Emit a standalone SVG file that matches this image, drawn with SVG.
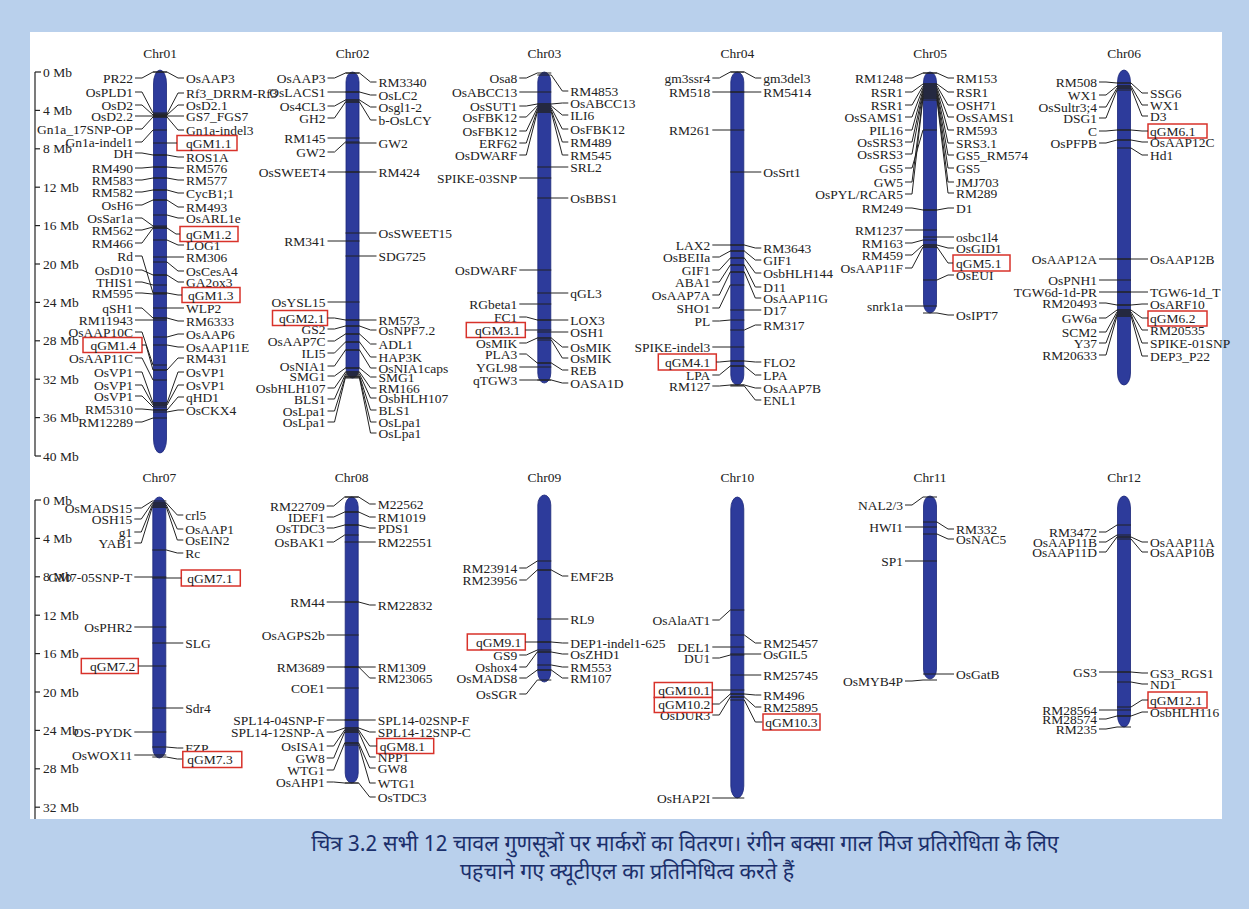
<svg xmlns="http://www.w3.org/2000/svg" width="1249" height="909" viewBox="0 0 1249 909">
<style>
text{font-family:"Liberation Serif","Times New Roman",serif;fill:#222}
.lab text{font-size:13.5px;dominant-baseline:central}
.L{text-anchor:end}
.t{font-size:15px;text-anchor:middle}
.ax text{font-size:13.5px;dominant-baseline:central}
.ax line{stroke:#222;stroke-width:1.2}
.cn polyline{fill:none;stroke:#222;stroke-width:1}
.bar{fill:#2d3b9b;stroke:#1b2678;stroke-width:.8}
.q{fill:#fff;stroke:#d8322a;stroke-width:1.5}
.cap{font-family:"Noto Sans Devanagari","Noto Sans",sans-serif;font-size:21.5px;fill:#1b2f6b;text-anchor:middle}
</style>
<rect width="1249" height="909" fill="#b9d0ec"/>
<rect x="30" y="32" width="1192" height="787" fill="#fff"/>

<g id="axis-top" class="ax">
<line x1="35" y1="72" x2="35" y2="456"/>
<line x1="35" y1="72" x2="41" y2="72"/><line x1="35" y1="110.4" x2="40" y2="110.4"/><line x1="35" y1="148.8" x2="40" y2="148.8"/><line x1="35" y1="187.2" x2="40" y2="187.2"/><line x1="35" y1="225.6" x2="40" y2="225.6"/><line x1="35" y1="264" x2="40" y2="264"/><line x1="35" y1="302.4" x2="40" y2="302.4"/><line x1="35" y1="340.8" x2="40" y2="340.8"/><line x1="35" y1="379.2" x2="40" y2="379.2"/><line x1="35" y1="417.6" x2="40" y2="417.6"/><line x1="35" y1="456" x2="41" y2="456"/>
<text x="43" y="72">0 Mb</text><text x="43" y="110.4">4 Mb</text><text x="43" y="148.8">8 Mb</text><text x="43" y="187.2">12 Mb</text><text x="43" y="225.6">16 Mb</text><text x="43" y="264">20 Mb</text><text x="43" y="302.4">24 Mb</text><text x="43" y="340.8">28 Mb</text><text x="43" y="379.2">32 Mb</text><text x="43" y="417.6">36 Mb</text><text x="43" y="456">40 Mb</text>
</g>
<g id="axis-bottom" class="ax">
<line x1="35" y1="500" x2="35" y2="819"/>
<line x1="35" y1="500" x2="41" y2="500"/><line x1="35" y1="538.4" x2="40" y2="538.4"/><line x1="35" y1="576.8" x2="40" y2="576.8"/><line x1="35" y1="615.2" x2="40" y2="615.2"/><line x1="35" y1="653.6" x2="40" y2="653.6"/><line x1="35" y1="692" x2="40" y2="692"/><line x1="35" y1="730.4" x2="40" y2="730.4"/><line x1="35" y1="768.8" x2="40" y2="768.8"/><line x1="35" y1="807.2" x2="40" y2="807.2"/>
<text x="43" y="500">0 Mb</text><text x="43" y="538.4">4 Mb</text><text x="43" y="576.8">8 Mb</text><text x="43" y="615.2">12 Mb</text><text x="43" y="653.6">16 Mb</text><text x="43" y="692">20 Mb</text><text x="43" y="730.4">24 Mb</text><text x="43" y="768.8">28 Mb</text><text x="43" y="807.2">32 Mb</text>
</g>

<g id="chr01" class="lab" transform="translate(160,0)">
<text class="t" x="0" y="53">Chr01</text>
<rect class="bar" x="-6.5" y="70" width="13" height="383" rx="6.5" ry="14"/>
<text class="L" x="-27" y="78">PR22</text><text class="L" x="-27" y="92">OsPLD1</text><text class="L" x="-27" y="105">OsD2</text><text class="L" x="-27" y="116">OsD2.2</text><text class="L" x="-27" y="129">Gn1a_17SNP-OP</text><text class="L" x="-27" y="142">Gn1a-indel1</text><text class="L" x="-27" y="153">DH</text><text class="L" x="-27" y="168">RM490</text><text class="L" x="-27" y="180">RM583</text><text class="L" x="-27" y="192">RM582</text><text class="L" x="-27" y="205">OsH6</text><text class="L" x="-27" y="218">OsSar1a</text><text class="L" x="-27" y="230">RM562</text><text class="L" x="-27" y="243">RM466</text><text class="L" x="-27" y="256">Rd</text><text class="L" x="-27" y="270">OsD10</text><text class="L" x="-27" y="282">THIS1</text><text class="L" x="-27" y="293">RM595</text><text class="L" x="-27" y="308">qSH1</text><text class="L" x="-27" y="320">RM11943</text><text class="L" x="-27" y="332">OsAAP10C</text><text class="L" x="-27" y="358">OsAAP11C</text><text class="L" x="-27" y="372">OsVP1</text><text class="L" x="-27" y="385">OsVP1</text><text class="L" x="-27" y="396">OsVP1</text><text class="L" x="-27" y="409">RM5310</text><text class="L" x="-27" y="422">RM12289</text>
<text x="26" y="78">OsAAP3</text><text x="26" y="93">Rf3_DRRM-Rf3</text><text x="26" y="105">OsD2.1</text><text x="26" y="116">GS7_FGS7</text><text x="26" y="130">Gn1a-indel3</text><text x="26" y="157">ROS1A</text><text x="26" y="168">RM576</text><text x="26" y="180">RM577</text><text x="26" y="193">CycB1;1</text><text x="26" y="207">RM493</text><text x="26" y="218">OsARL1e</text><text x="26" y="245">LOG1</text><text x="26" y="257">RM306</text><text x="26" y="271">OsCesA4</text><text x="26" y="282">GA2ox3</text><text x="26" y="308">WLP2</text><text x="26" y="321">RM6333</text><text x="26" y="334">OsAAP6</text><text x="26" y="347">OsAAP11E</text><text x="26" y="358">RM431</text><text x="26" y="372">OsVP1</text><text x="26" y="385">OsVP1</text><text x="26" y="397">qHD1</text><text x="26" y="410">OsCKX4</text>
<rect class="q" x="17" y="135.5" width="60" height="15"/><rect class="q" x="20" y="226.5" width="58" height="15"/><rect class="q" x="22" y="287.5" width="58" height="15"/><rect class="q" x="-77" y="337.5" width="59" height="15"/>
<text x="26" y="143">qGM1.1</text><text x="26" y="234">qGM1.2</text><text x="28" y="295">qGM1.3</text><text class="L" x="-24" y="345">qGM1.4</text>
</g>

<g id="chr02" class="lab" transform="translate(352.5,0)">
<text class="t" x="0" y="53">Chr02</text>
<rect class="bar" x="-6.5" y="72" width="13" height="306" rx="6.5" ry="10"/>
<text class="L" x="-27" y="78">OsAAP3</text><text class="L" x="-27" y="92">OsLACS1</text><text class="L" x="-27" y="106">Os4CL3</text><text class="L" x="-27" y="118">GH2</text><text class="L" x="-27" y="138">RM145</text><text class="L" x="-27" y="152">GW2</text><text class="L" x="-27" y="172">OsSWEET4</text><text class="L" x="-27" y="241">RM341</text><text class="L" x="-27" y="302">OsYSL15</text><text class="L" x="-27" y="329">GS2</text><text class="L" x="-27" y="341">OsAAP7C</text><text class="L" x="-27" y="353">ILI5</text><text class="L" x="-27" y="366">OsNIA1</text><text class="L" x="-27" y="376">SMG1</text><text class="L" x="-27" y="388">OsbHLH107</text><text class="L" x="-27" y="399">BLS1</text><text class="L" x="-27" y="411">OsLpa1</text><text class="L" x="-27" y="422">OsLpa1</text>
<text x="26" y="82">RM3340</text><text x="26" y="95">OsLC2</text><text x="26" y="107">Osgl1-2</text><text x="26" y="120">b-OsLCY</text><text x="26" y="143">GW2</text><text x="26" y="172">RM424</text><text x="26" y="233">OsSWEET15</text><text x="26" y="256">SDG725</text><text x="26" y="320">RM573</text><text x="26" y="330">OsNPF7.2</text><text x="26" y="344">ADL1</text><text x="26" y="357">HAP3K</text><text x="26" y="368">OsNIA1caps</text><text x="26" y="377">SMG1</text><text x="26" y="388">RM166</text><text x="26" y="398">OsbHLH107</text><text x="26" y="410">BLS1</text><text x="26" y="422">OsLpa1</text><text x="26" y="433">OsLpa1</text>
<rect class="q" x="-80" y="310.5" width="55" height="15"/>
<text class="L" x="-28" y="318">qGM2.1</text>
</g>

<g id="chr03" class="lab" transform="translate(544.3,0)">
<text class="t" x="0" y="53">Chr03</text>
<rect class="bar" x="-6.5" y="72" width="13" height="311" rx="6.5" ry="10"/>
<text class="L" x="-27" y="78">Osa8</text><text class="L" x="-27" y="92">OsABCC13</text><text class="L" x="-27" y="106">OsSUT1</text><text class="L" x="-27" y="117">OsFBK12</text><text class="L" x="-27" y="131">OsFBK12</text><text class="L" x="-27" y="143">ERF62</text><text class="L" x="-27" y="155">OsDWARF</text><text class="L" x="-27" y="178">SPIKE-03SNP</text><text class="L" x="-27" y="270">OsDWARF</text><text class="L" x="-27" y="304">RGbeta1</text><text class="L" x="-27" y="317">FC1</text><text class="L" x="-27" y="343">OsMIK</text><text class="L" x="-27" y="354">PLA3</text><text class="L" x="-27" y="367">YGL98</text><text class="L" x="-27" y="380">qTGW3</text>
<text x="26" y="91">RM4853</text><text x="26" y="103">OsABCC13</text><text x="26" y="115">ILI6</text><text x="26" y="129">OsFBK12</text><text x="26" y="142">RM489</text><text x="26" y="155">RM545</text><text x="26" y="167">SRL2</text><text x="26" y="198">OsBBS1</text><text x="26" y="293">qGL3</text><text x="26" y="320">LOX3</text><text x="26" y="332">OSH1</text><text x="26" y="347">OsMIK</text><text x="26" y="358">OsMIK</text><text x="26" y="370">REB</text><text x="26" y="383">OASA1D</text>
<rect class="q" x="-78" y="322.5" width="59" height="15"/>
<text class="L" x="-24" y="330">qGM3.1</text>
</g>

<g id="chr04" class="lab" transform="translate(737.3,0)">
<text class="t" x="0" y="53">Chr04</text>
<rect class="bar" x="-6.5" y="72" width="13" height="313" rx="6.5" ry="10"/>
<text class="L" x="-27" y="78">gm3ssr4</text><text class="L" x="-27" y="92">RM518</text><text class="L" x="-27" y="130">RM261</text><text class="L" x="-27" y="245">LAX2</text><text class="L" x="-27" y="257">OsBEIIa</text><text class="L" x="-27" y="270">GIF1</text><text class="L" x="-27" y="282">ABA1</text><text class="L" x="-27" y="295">OsAAP7A</text><text class="L" x="-27" y="308">SHO1</text><text class="L" x="-27" y="321">PL</text><text class="L" x="-27" y="347">SPIKE-indel3</text><text class="L" x="-27" y="375">LPA</text><text class="L" x="-27" y="386">RM127</text>
<text x="26" y="78">gm3del3</text><text x="26" y="92">RM5414</text><text x="26" y="172">OsSrt1</text><text x="26" y="248">RM3643</text><text x="26" y="260">GIF1</text><text x="26" y="273">OsbHLH144</text><text x="26" y="287">D11</text><text x="26" y="298">OsAAP11G</text><text x="26" y="310">D17</text><text x="26" y="325">RM317</text><text x="26" y="362">FLO2</text><text x="26" y="375">LPA</text><text x="26" y="388">OsAAP7B</text><text x="26" y="400">ENL1</text>
<rect class="q" x="-79" y="354" width="58" height="16"/>
<text class="L" x="-27" y="362">qGM4.1</text>
</g>

<g id="chr05" class="lab" transform="translate(930,0)">
<text class="t" x="0" y="53">Chr05</text>
<rect class="bar" x="-6.5" y="72" width="13" height="241" rx="6.5" ry="10"/>
<text class="L" x="-27" y="78">RM1248</text><text class="L" x="-27" y="92">RSR1</text><text class="L" x="-27" y="105">RSR1</text><text class="L" x="-27" y="117">OsSAMS1</text><text class="L" x="-27" y="130">PIL16</text><text class="L" x="-27" y="142">OsSRS3</text><text class="L" x="-27" y="154">OsSRS3</text><text class="L" x="-27" y="168">GS5</text><text class="L" x="-27" y="182">GW5</text><text class="L" x="-27" y="194">OsPYL/RCAR5</text><text class="L" x="-27" y="208">RM249</text><text class="L" x="-27" y="230">RM1237</text><text class="L" x="-27" y="243">RM163</text><text class="L" x="-27" y="255">RM459</text><text class="L" x="-27" y="268">OsAAP11F</text><text class="L" x="-27" y="306">snrk1a</text>
<text x="26" y="78">RM153</text><text x="26" y="92">RSR1</text><text x="26" y="105">OSH71</text><text x="26" y="117">OsSAMS1</text><text x="26" y="130">RM593</text><text x="26" y="143">SRS3.1</text><text x="26" y="155">GS5_RM574</text><text x="26" y="168">GS5</text><text x="26" y="182">JMJ703</text><text x="26" y="193">RM289</text><text x="26" y="208">D1</text><text x="26" y="237">osbc1l4</text><text x="26" y="248">OsGID1</text><text x="26" y="275">OsEUI</text><text x="26" y="315">OsIPT7</text>
<rect class="q" x="23" y="255" width="57" height="16"/>
<text x="26" y="263">qGM5.1</text>
</g>

<g id="chr06" class="lab" transform="translate(1124,0)">
<text class="t" x="0" y="53">Chr06</text>
<rect class="bar" x="-6.5" y="70" width="13" height="315" rx="6.5" ry="12"/>
<text class="L" x="-27" y="82">RM508</text><text class="L" x="-27" y="95">WX1</text><text class="L" x="-27" y="107">OsSultr3;4</text><text class="L" x="-27" y="118">DSG1</text><text class="L" x="-27" y="131">C</text><text class="L" x="-27" y="143">OsPFPB</text><text class="L" x="-27" y="259">OsAAP12A</text><text class="L" x="-27" y="280">OsPNH1</text><text class="L" x="-27" y="292">TGW6d-1d-PR</text><text class="L" x="-27" y="303">RM20493</text><text class="L" x="-27" y="318">GW6a</text><text class="L" x="-27" y="332">SCM2</text><text class="L" x="-27" y="343">Y37</text><text class="L" x="-27" y="355">RM20633</text>
<text x="26" y="93">SSG6</text><text x="26" y="105">WX1</text><text x="26" y="116">D3</text><text x="26" y="142">OsAAP12C</text><text x="26" y="155">Hd1</text><text x="26" y="259">OsAAP12B</text><text x="26" y="292">TGW6-1d_T</text><text x="26" y="304">OsARF10</text><text x="26" y="330">RM20535</text><text x="26" y="343">SPIKE-01SNP</text><text x="26" y="356">DEP3_P22</text>
<rect class="q" x="24" y="124" width="59" height="14"/><rect class="q" x="24" y="311" width="59" height="15"/>
<text x="26" y="131">qGM6.1</text><text x="26" y="318">qGM6.2</text>
</g>

<g id="chr07" class="lab" transform="translate(159.3,0)">
<text class="t" x="0" y="477">Chr07</text>
<rect class="bar" x="-6.5" y="497" width="13" height="261" rx="6.5" ry="10"/>
<text class="L" x="-27" y="508">OsMADS15</text><text class="L" x="-27" y="519">OSH15</text><text class="L" x="-27" y="532">g1</text><text class="L" x="-27" y="543">YAB1</text><text class="L" x="-27" y="577">GM7-05SNP-T</text><text class="L" x="-27" y="627">OsPHR2</text><text class="L" x="-27" y="732">OS-PYDK</text><text class="L" x="-27" y="755">OsWOX11</text>
<text x="26" y="515">crl5</text><text x="26" y="529">OsAAP1</text><text x="26" y="540">OsEIN2</text><text x="26" y="553">Rc</text><text x="26" y="643">SLG</text><text x="26" y="708">Sdr4</text><text x="26" y="748">FZP</text>
<rect class="q" x="22" y="570" width="59" height="16"/><rect class="q" x="-78" y="658.5" width="57" height="15"/><rect class="q" x="23.5" y="751.5" width="59" height="16"/>
<text x="28" y="578">qGM7.1</text><text class="L" x="-24" y="666">qGM7.2</text><text x="28" y="759">qGM7.3</text>
</g>

<g id="chr08" class="lab" transform="translate(351.7,0)">
<text class="t" x="0" y="477">Chr08</text>
<rect class="bar" x="-6.5" y="497" width="13" height="286" rx="6.5" ry="10"/>
<text class="L" x="-27" y="506">RM22709</text><text class="L" x="-27" y="517">IDEF1</text><text class="L" x="-27" y="528">OsTDC3</text><text class="L" x="-27" y="542">OsBAK1</text><text class="L" x="-27" y="602">RM44</text><text class="L" x="-27" y="635">OsAGPS2b</text><text class="L" x="-27" y="667">RM3689</text><text class="L" x="-27" y="688">COE1</text><text class="L" x="-27" y="720">SPL14-04SNP-F</text><text class="L" x="-27" y="732">SPL14-12SNP-A</text><text class="L" x="-27" y="746">OsISA1</text><text class="L" x="-27" y="758">GW8</text><text class="L" x="-27" y="770">WTG1</text><text class="L" x="-27" y="782">OsAHP1</text>
<text x="26" y="504">M22562</text><text x="26" y="517">RM1019</text><text x="26" y="528">PDS1</text><text x="26" y="542">RM22551</text><text x="26" y="605">RM22832</text><text x="26" y="667">RM1309</text><text x="26" y="678">RM23065</text><text x="26" y="720">SPL14-02SNP-F</text><text x="26" y="732">SPL14-12SNP-C</text><text x="26" y="757">NPP1</text><text x="26" y="768">GW8</text><text x="26" y="783">WTG1</text><text x="26" y="797">OsTDC3</text>
<rect class="q" x="25" y="738.5" width="57" height="15"/>
<text x="28" y="746">qGM8.1</text>
</g>

<g id="chr09" class="lab" transform="translate(544.3,0)">
<text class="t" x="0" y="477">Chr09</text>
<rect class="bar" x="-6.5" y="495" width="13" height="187" rx="6.5" ry="10"/>
<text class="L" x="-27" y="568">RM23914</text><text class="L" x="-27" y="580">RM23956</text><text class="L" x="-27" y="655">GS9</text><text class="L" x="-27" y="667">Oshox4</text><text class="L" x="-27" y="678">OsMADS8</text><text class="L" x="-27" y="694">OsSGR</text>
<text x="26" y="576">EMF2B</text><text x="26" y="619">RL9</text><text x="26" y="643">DEP1-indel1-625</text><text x="26" y="654">OsZHD1</text><text x="26" y="667">RM553</text><text x="26" y="678">RM107</text>
<rect class="q" x="-77" y="634" width="58" height="16"/>
<text class="L" x="-23" y="642">qGM9.1</text>
</g>

<g id="chr10" class="lab" transform="translate(737.3,0)">
<text class="t" x="0" y="477">Chr10</text>
<rect class="bar" x="-6.5" y="497" width="13" height="301" rx="6.5" ry="12"/>
<text class="L" x="-27" y="620">OsAlaAT1</text><text class="L" x="-27" y="647">DEL1</text><text class="L" x="-27" y="658">DU1</text><text class="L" x="-27" y="715">OsDUR3</text><text class="L" x="-27" y="798">OsHAP2I</text>
<text x="26" y="643">RM25457</text><text x="26" y="654">OsGIL5</text><text x="26" y="675">RM25745</text><text x="26" y="695">RM496</text><text x="26" y="707">RM25895</text>
<rect class="q" x="-83" y="682.5" width="58" height="15"/><rect class="q" x="-83" y="697.5" width="58" height="15"/><rect class="q" x="25.7" y="714" width="57" height="16"/>
<text class="L" x="-27" y="690">qGM10.1</text><text class="L" x="-27" y="704">qGM10.2</text><text x="28" y="722">qGM10.3</text>
</g>

<g id="chr11" class="lab" transform="translate(930,0)">
<text class="t" x="0" y="477">Chr11</text>
<rect class="bar" x="-6.5" y="496" width="13" height="183" rx="6.5" ry="10"/>
<text class="L" x="-27" y="505">NAL2/3</text><text class="L" x="-27" y="527">HWI1</text><text class="L" x="-27" y="561">SP1</text><text class="L" x="-27" y="681">OsMYB4P</text>
<text x="26" y="529">RM332</text><text x="26" y="539">OsNAC5</text><text x="26" y="674">OsGatB</text>
</g>

<g id="chr12" class="lab" transform="translate(1124,0)">
<text class="t" x="0" y="477">Chr12</text>
<rect class="bar" x="-6.5" y="496" width="13" height="231" rx="6.5" ry="12"/>
<text class="L" x="-27" y="532">RM3472</text><text class="L" x="-27" y="542">OsAAP11B</text><text class="L" x="-27" y="552">OsAAP11D</text><text class="L" x="-27" y="672">GS3</text><text class="L" x="-27" y="710">RM28564</text><text class="L" x="-27" y="719">RM28574</text><text class="L" x="-27" y="729">RM235</text>
<text x="26" y="542">OsAAP11A</text><text x="26" y="552">OsAAP10B</text><text x="26" y="673">GS3_RGS1</text><text x="26" y="684">ND1</text><text x="26" y="712">OsbHLH116</text>
<rect class="q" x="24" y="692" width="59" height="16"/>
<text x="26" y="700">qGM12.1</text>
</g>

<g id="connectors" class="cn">
<g transform="translate(160,0)">
<polyline points="-25,78 -18,78 -7,72 7,72"/><polyline points="-25,92 -18,92 -7,113 7,113"/><polyline points="-25,105 -18,105 -7,115 7,115"/><polyline points="-25,116 -18,116 -7,116 7,116"/><polyline points="-25,129 -18,129 -7,117 7,117"/><polyline points="-25,142 -18,142 -7,130 7,130"/><polyline points="-25,153 -18,153 -7,155 7,155"/><polyline points="-25,168 -18,168 -7,167 7,167"/><polyline points="-25,180 -18,180 -7,178 7,178"/><polyline points="-25,192 -18,192 -7,190 7,190"/><polyline points="-25,205 -18,205 -7,200 7,200"/><polyline points="-25,218 -18,218 -7,226 7,226"/><polyline points="-25,230 -18,230 -7,227 7,227"/><polyline points="-25,243 -18,243 -7,228 7,228"/><polyline points="-25,256 -18,256 -7,293 7,293"/><polyline points="-25,270 -18,270 -7,275 7,275"/><polyline points="-25,282 -18,282 -7,285 7,285"/><polyline points="-25,293 -18,293 -7,294 7,294"/><polyline points="-25,308 -18,308 -7,318 7,318"/><polyline points="-25,320 -18,320 -7,320 7,320"/><polyline points="-25,332 -18,332 -7,365 7,365"/><polyline points="-18,345 -14,345 -7,370 7,370"/><polyline points="-25,358 -18,358 -7,380 7,380"/><polyline points="-25,372 -18,372 -7,403 7,403"/><polyline points="-25,385 -18,385 -7,405 7,405"/><polyline points="-25,396 -18,396 -7,407 7,407"/><polyline points="-25,409 -18,409 -7,410 7,410"/><polyline points="-25,422 -18,422 -7,418 7,418"/>
<polyline points="-7,72 7,72 18,78 24,78"/><polyline points="-7,114 7,114 18,93 24,93"/><polyline points="-7,115 7,115 18,105 24,105"/><polyline points="-7,116 7,116 18,116 24,116"/><polyline points="-7,117 7,117 18,130 24,130"/><polyline points="-7,143 17,143"/><polyline points="-7,155 7,155 18,157 24,157"/><polyline points="-7,167 7,167 18,168 24,168"/><polyline points="-7,178 7,178 18,180 24,180"/><polyline points="-7,190 7,190 18,193 24,193"/><polyline points="-7,200 7,200 18,207 24,207"/><polyline points="-7,215 7,215 18,218 24,218"/><polyline points="-7,228 7,228 16,234 20,234"/><polyline points="-7,240 7,240 18,245 24,245"/><polyline points="-7,257 24,257"/><polyline points="-7,262 7,262 18,271 24,271"/><polyline points="-7,275 7,275 18,282 24,282"/><polyline points="-7,293 7,293 18,295 22,295"/><polyline points="-7,308 24,308"/><polyline points="-7,318 7,318 18,321 24,321"/><polyline points="-7,337 7,337 18,334 24,334"/><polyline points="-7,345 7,345 18,347 24,347"/><polyline points="-7,370 7,370 18,358 24,358"/><polyline points="-7,403 7,403 18,372 24,372"/><polyline points="-7,405 7,405 18,385 24,385"/><polyline points="-7,410 7,410 18,397 24,397"/><polyline points="-7,412 7,412 18,410 24,410"/>
</g>
<g transform="translate(352.5,0)">
<polyline points="-25,78 -18,78 -7,73 7,73"/><polyline points="-25,92 7,92"/><polyline points="-25,106 -18,106 -7,100 7,100"/><polyline points="-25,118 -18,118 -7,102 7,102"/><polyline points="-25,138 7,138"/><polyline points="-25,152 -18,152 -7,142 7,142"/><polyline points="-25,172 7,172"/><polyline points="-25,241 7,241"/><polyline points="-25,302 7,302"/><polyline points="-25,318 -18,318 -7,320 7,320"/><polyline points="-25,329 -18,329 -7,326 7,326"/><polyline points="-25,341 -18,341 -7,334 7,334"/><polyline points="-25,353 -18,353 -7,342 7,342"/><polyline points="-25,366 -18,366 -7,350 7,350"/><polyline points="-25,376 -18,376 -7,368 7,368"/><polyline points="-25,388 -18,388 -7,372 7,372"/><polyline points="-25,399 -18,399 -7,374 7,374"/><polyline points="-25,411 -18,411 -7,376 7,376"/><polyline points="-25,422 -18,422 -7,377 7,377"/>
<polyline points="-7,73 7,73 18,82 24,82"/><polyline points="-7,92 7,92 18,95 24,95"/><polyline points="-7,100 7,100 18,107 24,107"/><polyline points="-7,102 7,102 18,120 24,120"/><polyline points="-7,143 24,143"/><polyline points="-7,172 24,172"/><polyline points="-7,233 24,233"/><polyline points="-7,256 24,256"/><polyline points="-7,320 24,320"/><polyline points="-7,326 7,326 18,330 24,330"/><polyline points="-7,334 7,334 18,344 24,344"/><polyline points="-7,342 7,342 18,357 24,357"/><polyline points="-7,350 7,350 18,368 24,368"/><polyline points="-7,368 7,368 18,377 24,377"/><polyline points="-7,372 7,372 18,388 24,388"/><polyline points="-7,374 7,374 18,398 24,398"/><polyline points="-7,376 7,376 18,410 24,410"/><polyline points="-7,377 7,377 18,422 24,422"/><polyline points="-7,378 7,378 18,433 24,433"/>
</g>
<g transform="translate(544.3,0)">
<polyline points="-25,78 -18,78 -7,73 7,73"/><polyline points="-25,92 7,92"/><polyline points="-25,106 -18,106 -7,104 7,104"/><polyline points="-25,117 -18,117 -7,106 7,106"/><polyline points="-25,131 -18,131 -7,108 7,108"/><polyline points="-25,143 -18,143 -7,110 7,110"/><polyline points="-25,155 -18,155 -7,112 7,112"/><polyline points="-25,178 7,178"/><polyline points="-25,270 7,270"/><polyline points="-25,304 7,304"/><polyline points="-25,317 -18,317 -7,320 7,320"/><polyline points="-19,330 7,330"/><polyline points="-25,343 -18,343 -7,338 7,338"/><polyline points="-25,354 -18,354 -7,363 7,363"/><polyline points="-25,367 7,367"/><polyline points="-25,380 7,380"/>
<polyline points="-7,75 7,75 18,91 24,91"/><polyline points="-7,104 7,104 18,103 24,103"/><polyline points="-7,106 7,106 18,115 24,115"/><polyline points="-7,108 7,108 18,129 24,129"/><polyline points="-7,110 7,110 18,142 24,142"/><polyline points="-7,112 7,112 18,155 24,155"/><polyline points="-7,167 24,167"/><polyline points="-7,198 24,198"/><polyline points="-7,293 24,293"/><polyline points="-7,320 24,320"/><polyline points="-7,332 24,332"/><polyline points="-7,338 7,338 18,347 24,347"/><polyline points="-7,340 7,340 18,358 24,358"/><polyline points="-7,363 7,363 18,370 24,370"/><polyline points="-7,380 7,380 18,383 24,383"/>
</g>
<g transform="translate(737.3,0)">
<polyline points="-25,78 -18,78 -7,72 7,72"/><polyline points="-25,92 7,92"/><polyline points="-25,130 7,130"/><polyline points="-25,245 7,245"/><polyline points="-25,257 -18,257 -7,251 7,251"/><polyline points="-25,270 -18,270 -7,258 7,258"/><polyline points="-25,282 -18,282 -7,265 7,265"/><polyline points="-25,295 -18,295 -7,272 7,272"/><polyline points="-25,308 -18,308 -7,285 7,285"/><polyline points="-25,321 -18,321 -7,320 7,320"/><polyline points="-25,347 7,347"/><polyline points="-21,362 -18,362 -7,361 7,361"/><polyline points="-25,375 -18,375 -7,366 7,366"/><polyline points="-25,386 -18,386 -7,385 7,385"/>
<polyline points="-7,72 7,72 18,78 24,78"/><polyline points="-7,92 24,92"/><polyline points="-7,172 24,172"/><polyline points="-7,245 7,245 18,248 24,248"/><polyline points="-7,251 7,251 18,260 24,260"/><polyline points="-7,258 7,258 18,273 24,273"/><polyline points="-7,265 7,265 18,287 24,287"/><polyline points="-7,272 7,272 18,298 24,298"/><polyline points="-7,310 24,310"/><polyline points="-7,330 7,330 18,325 24,325"/><polyline points="-7,361 7,361 18,362 24,362"/><polyline points="-7,366 7,366 18,375 24,375"/><polyline points="-7,385 7,385 18,388 24,388"/><polyline points="-7,386 7,386 18,400 24,400"/>
</g>
<g transform="translate(930,0)">
<polyline points="-25,78 -18,78 -7,73 7,73"/><polyline points="-25,92 -18,92 -7,84 7,84"/><polyline points="-25,105 -18,105 -7,86 7,86"/><polyline points="-25,117 -18,117 -7,88 7,88"/><polyline points="-25,130 -18,130 -7,90 7,90"/><polyline points="-25,142 -18,142 -7,92 7,92"/><polyline points="-25,154 -18,154 -7,94 7,94"/><polyline points="-25,168 -18,168 -7,130 7,130"/><polyline points="-25,182 -18,182 -7,96 7,96"/><polyline points="-25,194 -18,194 -7,98 7,98"/><polyline points="-25,208 -18,208 -7,210 7,210"/><polyline points="-25,230 7,230"/><polyline points="-25,243 -18,243 -7,240 7,240"/><polyline points="-25,255 -18,255 -7,245 7,245"/><polyline points="-25,268 -18,268 -7,247 7,247"/><polyline points="-25,306 7,306"/>
<polyline points="-7,73 7,73 18,78 24,78"/><polyline points="-7,84 7,84 18,92 24,92"/><polyline points="-7,86 7,86 18,105 24,105"/><polyline points="-7,88 7,88 18,117 24,117"/><polyline points="-7,90 7,90 18,130 24,130"/><polyline points="-7,92 7,92 18,143 24,143"/><polyline points="-7,94 7,94 18,155 24,155"/><polyline points="-7,96 7,96 18,168 24,168"/><polyline points="-7,98 7,98 18,182 24,182"/><polyline points="-7,100 7,100 18,193 24,193"/><polyline points="-7,210 7,210 18,208 24,208"/><polyline points="-7,237 24,237"/><polyline points="-7,245 7,245 18,248 24,248"/><polyline points="-7,247 7,247 18,263 23,263"/><polyline points="-7,280 7,280 18,275 24,275"/><polyline points="-7,313 7,313 18,315 24,315"/>
</g>
<g transform="translate(1124,0)">
<polyline points="-25,82 -18,82 -7,83 7,83"/><polyline points="-25,95 -18,95 -7,86 7,86"/><polyline points="-25,107 -18,107 -7,88 7,88"/><polyline points="-25,118 -18,118 -7,90 7,90"/><polyline points="-25,131 -18,131 -7,130 7,130"/><polyline points="-25,143 -18,143 -7,140 7,140"/><polyline points="-25,259 7,259"/><polyline points="-25,280 7,280"/><polyline points="-25,292 7,292"/><polyline points="-25,303 -18,303 -7,305 7,305"/><polyline points="-25,318 -18,318 -7,310 7,310"/><polyline points="-25,332 -18,332 -7,312 7,312"/><polyline points="-25,343 -18,343 -7,314 7,314"/><polyline points="-25,355 -18,355 -7,316 7,316"/>
<polyline points="-7,83 7,83 18,93 24,93"/><polyline points="-7,86 7,86 18,105 24,105"/><polyline points="-7,88 7,88 18,116 24,116"/><polyline points="-7,130 7,130 18,131 24,131"/><polyline points="-7,140 7,140 18,142 24,142"/><polyline points="-7,148 7,148 18,155 24,155"/><polyline points="-7,259 24,259"/><polyline points="-7,292 24,292"/><polyline points="-7,305 7,305 18,304 24,304"/><polyline points="-7,310 7,310 18,318 24,318"/><polyline points="-7,312 7,312 18,330 24,330"/><polyline points="-7,314 7,314 18,343 24,343"/><polyline points="-7,316 7,316 18,356 24,356"/>
</g>
<g transform="translate(159.3,0)">
<polyline points="-25,508 -18,508 -7,501 7,501"/><polyline points="-25,519 -18,519 -7,503 7,503"/><polyline points="-25,532 -18,532 -7,505 7,505"/><polyline points="-25,543 -18,543 -7,507 7,507"/><polyline points="-25,577 7,577"/><polyline points="-25,627 7,627"/><polyline points="-21,666 7,666"/><polyline points="-25,732 7,732"/><polyline points="-25,755 7,755"/>
<polyline points="-7,503 7,503 18,515 24,515"/><polyline points="-7,505 7,505 18,529 24,529"/><polyline points="-7,507 7,507 18,540 24,540"/><polyline points="-7,550 7,550 18,553 24,553"/><polyline points="-7,578 22,578"/><polyline points="-7,643 24,643"/><polyline points="-7,708 24,708"/><polyline points="-7,747 7,747 18,748 24,748"/><polyline points="-7,757 7,757 18,759 23,759"/>
</g>
<g transform="translate(351.7,0)">
<polyline points="-25,506 -18,506 -7,497 7,497"/><polyline points="-25,517 -18,517 -7,512 7,512"/><polyline points="-25,528 -18,528 -7,525 7,525"/><polyline points="-25,542 -18,542 -7,535 7,535"/><polyline points="-25,602 7,602"/><polyline points="-25,635 7,635"/><polyline points="-25,667 7,667"/><polyline points="-25,688 7,688"/><polyline points="-25,720 7,720"/><polyline points="-25,732 -18,732 -7,728 7,728"/><polyline points="-25,746 -18,746 -7,730 7,730"/><polyline points="-25,758 -18,758 -7,732 7,732"/><polyline points="-25,770 -18,770 -7,743 7,743"/><polyline points="-25,782 -18,782 -7,783 7,783"/>
<polyline points="-7,497 7,497 18,504 24,504"/><polyline points="-7,512 7,512 18,517 24,517"/><polyline points="-7,525 7,525 18,528 24,528"/><polyline points="-7,542 24,542"/><polyline points="-7,602 7,602 18,605 24,605"/><polyline points="-7,667 24,667"/><polyline points="-7,667 7,667 18,678 24,678"/><polyline points="-7,720 24,720"/><polyline points="-7,728 7,728 18,732 24,732"/><polyline points="-7,730 7,730 18,746 25,746"/><polyline points="-7,732 7,732 18,757 24,757"/><polyline points="-7,743 7,743 18,768 24,768"/><polyline points="-7,745 7,745 18,783 24,783"/><polyline points="-7,783 7,783 18,797 24,797"/>
</g>
<g transform="translate(544.3,0)">
<polyline points="-25,568 -18,568 -7,561 7,561"/><polyline points="-25,580 -18,580 -7,570 7,570"/><polyline points="-19,642 7,642"/><polyline points="-25,655 -18,655 -7,650 7,650"/><polyline points="-25,667 -18,667 -7,652 7,652"/><polyline points="-25,678 -18,678 -7,670 7,670"/><polyline points="-25,694 -18,694 -7,680 7,680"/>
<polyline points="-7,570 7,570 18,576 24,576"/><polyline points="-7,619 24,619"/><polyline points="-7,642 7,642 18,643 24,643"/><polyline points="-7,652 7,652 18,654 24,654"/><polyline points="-7,665 7,665 18,667 24,667"/><polyline points="-7,670 7,670 18,678 24,678"/>
</g>
<g transform="translate(737.3,0)">
<polyline points="-25,620 -18,620 -7,610 7,610"/><polyline points="-25,647 7,647"/><polyline points="-25,658 -18,658 -7,655 7,655"/><polyline points="-25,690 7,690"/><polyline points="-25,704 -18,704 -7,694 7,694"/><polyline points="-25,715 -18,715 -7,697 7,697"/><polyline points="-25,798 7,798"/>
<polyline points="-7,635 7,635 18,643 24,643"/><polyline points="-7,654 24,654"/><polyline points="-7,675 24,675"/><polyline points="-7,694 7,694 18,695 24,695"/><polyline points="-7,697 7,697 18,707 24,707"/><polyline points="-7,700 7,700 18,722 25,722"/>
</g>
<g transform="translate(930,0)">
<polyline points="-25,505 -18,505 -7,497 7,497"/><polyline points="-25,527 7,527"/><polyline points="-25,561 7,561"/><polyline points="-25,681 -18,681 -7,680 7,680"/>
<polyline points="-7,522 7,522 18,529 24,529"/><polyline points="-7,534 7,534 18,539 24,539"/><polyline points="-7,674 24,674"/>
</g>
<g transform="translate(1124,0)">
<polyline points="-25,532 -18,532 -7,525 7,525"/><polyline points="-25,542 -18,542 -7,535 7,535"/><polyline points="-25,552 -18,552 -7,537 7,537"/><polyline points="-25,672 7,672"/><polyline points="-25,710 7,710"/><polyline points="-25,719 -18,719 -7,716 7,716"/><polyline points="-25,729 -18,729 -7,727 7,727"/>
<polyline points="-7,537 7,537 18,542 24,542"/><polyline points="-7,539 7,539 18,552 24,552"/><polyline points="-7,672 7,672 18,673 24,673"/><polyline points="-7,682 7,682 18,684 24,684"/><polyline points="-7,707 7,707 18,700 24,700"/><polyline points="-7,716 7,716 18,712 24,712"/>
</g>
</g>

<g id="caption">
<text class="cap" x="685" y="851">चित्र 3.2  सभी 12 चावल गुणसूत्रों पर मार्करों का वितरण। रंगीन बक्सा गाल मिज प्रतिरोधिता के लिए</text>
<text class="cap" x="627" y="879">पहचाने गए क्यूटीएल का प्रतिनिधित्व करते हैं</text>
</g>
</svg>
